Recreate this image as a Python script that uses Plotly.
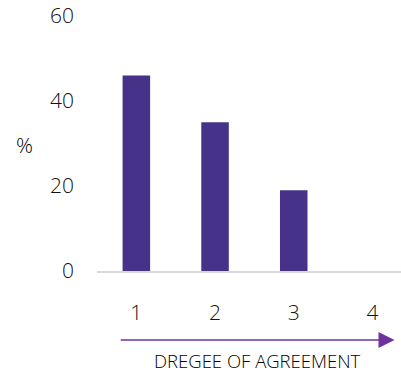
import plotly.graph_objects as go

categories = ["1", "2", "3", "4"]
values = [46, 35, 19, 0]
y_ticks = [0, 20, 40, 60]
y_label = "%"
x_title = "DREGEE OF AGREEMENT"

L, T, W, H = 97, 16, 401, 374
B = 103
PW = W - L
PH = H - T - B

def px(x):
    return (x - L) / PW

def py(y):
    return (H - B - y) / PH

fig = go.Figure(go.Bar(
    x=[1, 2, 3, 4], y=values, width=0.35,
    marker=dict(color="#463389", line=dict(width=0)),
))

tf = dict(size=21, color="#111111", family="Open Sans", weight=300)

fig.update_layout(
    width=W, height=H,
    margin=dict(l=L, r=0, t=T, b=B, pad=0),
    paper_bgcolor="white", plot_bgcolor="white",
    showlegend=False,
    font=dict(family="Open Sans", color="#111111"),
    xaxis=dict(
        range=[0.5, 0.5 + PW / 78.7], tickvals=[1, 2, 3, 4], ticktext=categories,
        showgrid=False, zeroline=False, showline=True, linecolor="#D9D9D9", linewidth=1.5,
        ticks="", tickfont=tf, ticklabelstandoff=22,
    ),
    yaxis=dict(
        range=[0, 60], tickvals=y_ticks, showgrid=False, zeroline=False, showline=False,
        ticks="", tickfont=tf, ticklabelstandoff=22,
    ),
)

arrow_color = "#7030A0"
fig.add_shape(type="line", xref="paper", yref="paper",
              x0=px(120.7), x1=px(381), y0=py(340), y1=py(340),
              line=dict(color=arrow_color, width=1.5))
fig.add_shape(type="path", xref="paper", yref="paper",
              path=f"M {px(378.5)} {py(332)} L {px(394.5)} {py(340)} L {px(378.5)} {py(348)} Z",
              fillcolor=arrow_color, line=dict(color=arrow_color, width=0))

fig.add_annotation(text=x_title, xref="paper", yref="paper", x=px(257), y=py(360),
                   showarrow=False, font=dict(size=18.5, color="#000000", weight=300),
                   xanchor="center", yanchor="middle")
fig.add_annotation(text=y_label, xref="paper", yref="paper", x=px(24), y=py(145),
                   showarrow=False, font=dict(size=21, color="#000000", weight=300),
                   xanchor="center", yanchor="middle")

fig.write_html("out.html")
